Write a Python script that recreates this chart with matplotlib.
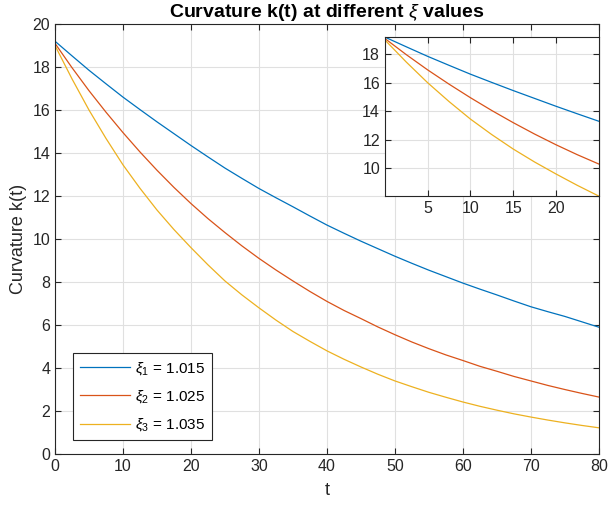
import matplotlib
matplotlib.use('Agg')
import matplotlib.pyplot as plt

plt.rcParams['font.family'] = ['Liberation Sans', 'DejaVu Sans']
plt.rcParams['mathtext.fontset'] = 'custom'
plt.rcParams['mathtext.rm'] = 'Liberation Sans'
plt.rcParams['mathtext.it'] = 'Liberation Sans:italic'

# valores (t de 2.5 em 2.5)
t = [0, 2.5, 5, 7.5, 10, 12.5, 15, 17.5, 20, 22.5, 25, 27.5, 30, 32.5, 35, 37.5,
     40, 42.5, 45, 47.5, 50, 52.5, 55, 57.5, 60, 62.5, 65, 67.5, 70, 72.5, 75, 77.5, 80]
k1 = [19.2, 18.52, 17.85, 17.22, 16.6, 16.02, 15.45, 14.9, 14.35, 13.82, 13.3,
      12.82, 12.35, 11.92, 11.5, 11.07, 10.65, 10.27, 9.9, 9.55, 9.2, 8.87, 8.55,
      8.25, 7.95, 7.67, 7.4, 7.12, 6.85, 6.62, 6.4, 6.15, 5.9]
k2 = [19.1, 17.97, 16.9, 15.9, 14.95, 14.05, 13.2, 12.4, 11.65, 10.95, 10.3,
      9.68, 9.1, 8.56, 8.05, 7.56, 7.1, 6.68, 6.3, 5.91, 5.55, 5.21, 4.9,
      4.61, 4.35, 4.08, 3.85, 3.61, 3.4, 3.19, 3.0, 2.82, 2.65]
k3 = [19.0, 17.45, 16.0, 14.68, 13.45, 12.36, 11.35, 10.44, 9.6, 8.8, 8.05,
      7.4, 6.8, 6.23, 5.7, 5.24, 4.8, 4.41, 4.05, 3.71, 3.4, 3.13, 2.87,
      2.64, 2.42, 2.22, 2.04, 1.87, 1.72, 1.58, 1.45, 1.33, 1.22]
labels = [r'$\xi_1$ = 1.015', r'$\xi_2$ = 1.025', r'$\xi_3$ = 1.035']
cores = ['#0072BD', '#D95319', '#EDB120']
n_zoom = 11  # pontos até t = 25


def estilo(ax):
    ax.grid(True, color='#e0e0e0', linewidth=0.8)
    ax.set_axisbelow(True)
    ax.tick_params(direction='in', top=True, right=True, colors='#262626',
                   labelcolor='#262626', labelsize=11.5, length=4)
    for s in ax.spines.values():
        s.set_color('#262626')
        s.set_linewidth(0.8)


fig = plt.figure(figsize=(6.09, 5.11), dpi=100)
ax = fig.add_axes([0.0903, 0.1115, 0.893, 0.8415])
for k, lab, c in zip([k1, k2, k3], labels, cores):
    ax.plot(t, k, color=c, linewidth=0.9, label=lab)
ax.set_xlim(0, 80)
ax.set_ylim(0, 20)
ax.set_xticks(range(0, 81, 10))
ax.set_yticks(range(0, 21, 2))
estilo(ax)
ax.set_xlabel('t', fontsize=13, color='#262626', labelpad=6)
ax.set_ylabel('Curvature k(t)', fontsize=13, color='#262626')
ax.set_title(r'Curvature k(t) at different $\xi$ values', fontsize=14,
             fontweight='bold', color='black', pad=5)
leg = ax.legend(loc='lower left', bbox_to_anchor=(0.033, 0.032), fontsize=11,
                fancybox=False, edgecolor='#262626', framealpha=1,
                handlelength=3.3, handletextpad=0.3, borderpad=0.45,
                labelspacing=0.75, borderaxespad=0)
leg.get_frame().set_linewidth(0.8)

# gráfico interno (zoom até t = 25)
ins = fig.add_axes([0.632, 0.6164, 0.351, 0.311])
for k, c in zip([k1, k2, k3], cores):
    ins.plot(t[:n_zoom], k[:n_zoom], color=c, linewidth=0.9)
ins.set_xlim(0, 25)
ins.set_ylim(min(k3[:n_zoom]), max(k1))
ins.set_xticks([5, 10, 15, 20])
ins.set_yticks([10, 12, 14, 16, 18])
estilo(ins)

fig.savefig('out.png', dpi=100)
